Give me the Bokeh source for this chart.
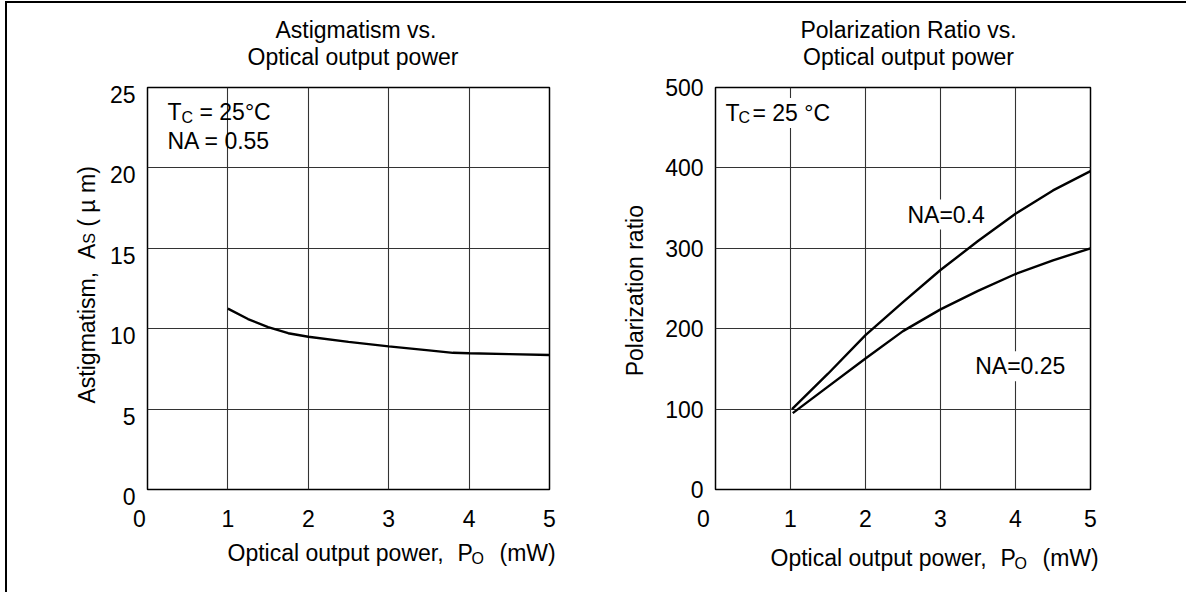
import math
from bokeh.plotting import figure
from bokeh.models import Label, FixedTicker, Range1d
from bokeh.layouts import row
from bokeh.core.properties import value
from bokeh.embed import file_html
from bokeh.resources import INLINE

# ---------------- data ----------------
x_ticks = [0, 1, 2, 3, 4, 5]
astig_ticks = [0, 5, 10, 15, 20, 25]
pol_ticks = [0, 100, 200, 300, 400, 500]

astig_power = [1.0, 1.25, 1.5, 1.75, 2.0, 2.5, 3.0, 3.5, 3.8, 4.0, 4.5, 5.0]
astig_value = [11.25, 10.6, 10.1, 9.72, 9.5, 9.18, 8.9, 8.65, 8.5, 8.47, 8.42, 8.36]

pol_power_na04 = [1.02, 1.5, 2.0, 2.5, 3.0, 3.5, 4.0, 4.5, 5.0]
pol_ratio_na04 = [100, 144, 192, 233, 273, 309, 343, 372, 396]
pol_power_na025 = [1.03, 1.5, 2.0, 2.5, 3.0, 3.5, 4.0, 4.5, 5.0]
pol_ratio_na025 = [95, 128, 163, 197, 224, 247, 268, 285, 300]

FONT = "Liberation Sans"
FS = "23px"
SUB = "16px"
BASE_FIX = 9  # measured shift of the rendered baseline


def lab(p, text, x, y, xo=0, yo=0, size=FS, align="left", bg=None):
    """Label inside the plot frame (y_offset positive = up)."""
    kw = dict(x=x, y=y, x_offset=xo, y_offset=yo + BASE_FIX, text=text, text_font=FONT,
              text_font_size=size, text_align=align, text_baseline="alphabetic",
              text_color="black")
    if bg is not None:
        kw["background_fill_color"] = bg
        kw["padding"] = 2
    p.add_layout(Label(**kw))


def txt(p, text, x, y, xo=0, yo=0, size=FS, align="left", angle=0.0):
    """Text glyph on the overlay level, so it may sit outside the frame
    (y_offset positive = down)."""
    if angle:
        xo = xo - BASE_FIX
    else:
        yo = yo - BASE_FIX
    p.text(x=[x], y=[y], text=[text], x_offset=xo, y_offset=yo, angle=angle,
           text_font=value(FONT), text_font_size=value(size), text_align=align,
           text_baseline="alphabetic", text_color="black", level="overlay")


def make_fig(width, ymax, yticks, bl, br):
    p = figure(width=width, height=589, x_range=Range1d(0, 5), y_range=Range1d(0, ymax),
               output_backend="svg", toolbar_location=None,
               min_border_left=bl, min_border_right=br,
               min_border_top=84, min_border_bottom=103)
    p.background_fill_color = "white"
    p.border_fill_color = "white"
    p.outline_line_color = "black"
    p.outline_line_width = 1.5
    p.xaxis.ticker = FixedTicker(ticks=x_ticks)
    p.yaxis.ticker = FixedTicker(ticks=yticks)
    p.xaxis.major_label_overrides = {0: ""}
    for ax in (p.xaxis, p.yaxis):
        ax.axis_line_color = None
        ax.major_tick_line_color = None
        ax.minor_tick_line_color = None
        ax.major_tick_out = 0
        ax.major_tick_in = 0
        ax.major_label_text_font = FONT
        ax.major_label_text_font_size = FS
        ax.major_label_text_color = "black"
    p.xaxis.major_label_standoff = 20
    p.yaxis.major_label_standoff = 12
    p.xgrid.grid_line_color = "#333333"
    p.ygrid.grid_line_color = "#333333"
    p.xgrid.grid_line_width = 1.1
    p.ygrid.grid_line_width = 1.1
    return p


R = math.pi / 2

# ---------------- left: astigmatism ----------------
p1 = make_fig(608, 25, astig_ticks, 140, 66)
p1.line(astig_power, astig_value, line_color="black", line_width=2.4)
# left y tick labels sit just below their grid lines
p1.yaxis.major_label_overrides = {t: "" for t in astig_ticks}
for t in astig_ticks:
    txt(p1, str(t), 0, t, xo=-12, yo=16, align="right")

txt(p1, "Astigmatism vs.", 2.5, 25, xo=7.5, yo=-48.3, align="center")
txt(p1, "Optical output power", 2.5, 25, xo=4.5, yo=-21.3, align="center")
txt(p1, "0", 0, 0, xo=-8, yo=37.7, align="center")
txt(p1, "Optical output power,", 0, 0, xo=80, yo=72)
txt(p1, "P", 0, 0, xo=80 + 230, yo=72)
txt(p1, "O", 0, 0, xo=80 + 244, yo=78, size=SUB)
txt(p1, "(mW)", 0, 0, xo=80 + 272, yo=72)
ys = -86
txt(p1, "Astigmatism,", 0, 0, xo=-51.7, yo=ys, angle=R)
txt(p1, "A", 0, 0, xo=-51.7, yo=ys - 144.4, angle=R)
txt(p1, "S", 0, 0, xo=-48.7, yo=ys - 159.7, angle=R, size=SUB)
txt(p1, "( \u00b5 m)", 0, 0, xo=-51.7, yo=ys - 176.8, angle=R)
lab(p1, "T", 0, 25, xo=20, yo=-33.7)
lab(p1, "C", 0, 25, xo=34, yo=-38.7, size=SUB)
lab(p1, "= 25\u00b0C", 0, 25, xo=52, yo=-33.7)
lab(p1, "NA = 0.55", 0, 25, xo=20, yo=-62.7)

# ---------------- right: polarization ratio ----------------
p2 = make_fig(571, 500, pol_ticks, 100, 96)
p2.line(pol_power_na04, pol_ratio_na04, line_color="black", line_width=2.4)
p2.line(pol_power_na025, pol_ratio_na025, line_color="black", line_width=2.4)

txt(p2, "Polarization Ratio vs.", 2.5, 500, xo=5.5, yo=-48.3, align="center")
txt(p2, "Optical output power", 2.5, 500, xo=5.5, yo=-21.3, align="center")
txt(p2, "0", 0, 0, xo=-12, yo=37.7, align="center")
txt(p2, "Optical output power,", 0, 0, xo=55, yo=77)
txt(p2, "P", 0, 0, xo=55 + 230, yo=77)
txt(p2, "O", 0, 0, xo=55 + 244, yo=83, size=SUB)
txt(p2, "(mW)", 0, 0, xo=55 + 272, yo=77)
txt(p2, "Polarization ratio", 0, 250, xo=-72, yo=2.2, angle=R, align="center")
lab(p2, "T", 0, 500, xo=10, yo=-34.4)
lab(p2, "C", 0, 500, xo=23, yo=-39.4, size=SUB)
lab(p2, "= 25 \u00b0C", 0, 500, xo=35, yo=-34.4, bg="white")
lab(p2, "NA=0.4", 2.533, 330.8, bg="white")
lab(p2, "NA=0.25", 3.436, 142.2, bg="white")

layout = row(p1, p2, styles={"border-left": "2px solid black",
                             "border-top": "2px solid black",
                             "margin-left": "5px", "margin-top": "1px"})

open("out.html", "w").write(file_html(layout, INLINE))
